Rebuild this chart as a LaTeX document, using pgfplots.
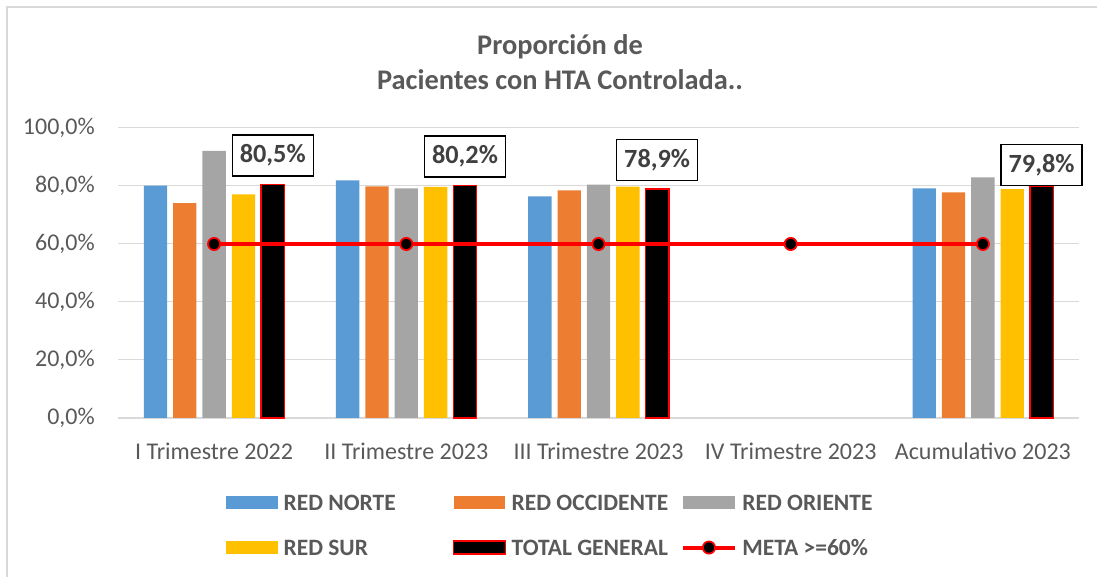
\documentclass[border=0pt]{standalone}
\usepackage{fontspec}
\setmainfont{Carlito}
\usepackage{pgfplots}
\usepackage{pgfplotstable}
\pgfplotsset{compat=1.18}
\definecolor{cblue}{HTML}{5B9BD5}
\definecolor{corange}{HTML}{ED7D31}
\definecolor{cgray}{HTML}{A5A5A5}
\definecolor{cyellow}{HTML}{FFC000}
\definecolor{cred}{HTML}{FF0000}
\definecolor{txtgray}{HTML}{595959}
\definecolor{lblgray}{HTML}{404040}
\definecolor{gridgray}{HTML}{D9D9D9}

\pgfplotstableread{
x norte occidente oriente sur
0 80.1 74.1 92.1 77.1
1 81.9 79.9 79.2 79.7
2 76.4 78.5 80.5 79.8
4 79.2 77.8 83.0 78.9
}\redes
\pgfplotstableread{
x y
0 80.5
1 80.2
2 78.9
}\totala
\pgfplotstableread{
x y
4 79.8
}\totalb
\pgfplotstableread{
x y
0 60
1 60
2 60
3 60
4 60
}\meta

\pgfplotsset{
  barleg/.style={legend image code/.code={\path[##1] (0pt,0.7pt) rectangle (38.75pt,10.7pt);}},
  lineleg/.style={legend image code/.code={\draw[##1,mark repeat=2,mark phase=2] plot coordinates {(0pt,5.7pt) (19.4pt,5.7pt) (38.75pt,5.7pt)};}},
  totalstyle/.style={fill=black, draw=cred, line width=1.1pt, bar shift=44pt,
    nodes near coords={\pgfmathprintnumber[fixed,fixed zerofill,precision=1,use comma]{\pgfplotspointmeta}\%},
    every node near coord/.append style={anchor=south, yshift=#1, draw=black, fill=white, line width=1.1pt,
      inner sep=0pt, minimum width=60.75pt, minimum height=30.75pt, text=lblgray,
      font=\fontsize{19.7}{23}\selectfont\bfseries}},
}
\newcommand{\lt}[1]{\makebox[127pt][l]{#1}}

\begin{document}
\begin{tikzpicture}[x=1pt,y=1pt]
\useasboundingbox (0,0) rectangle (822.75,432.75);
\draw[gridgray, line width=1.5pt] (5.3,-20) -- (5.3,427.5) -- (850,427.5);
\node[align=center, text=txtgray, font=\fontsize{21.3}{26.25}\selectfont\bfseries] at (420,385.9) {Proporción de\\Pacientes con HTA Controlada..};
\begin{axis}[
  at={(88.5pt,119.25pt)}, anchor=south west,
  scale only axis, width=720.75pt, height=217.5pt,
  xmin=-0.5, xmax=4.5, ymin=0, ymax=100,
  clip=false,
  ybar, bar width=17.5pt,
  xtick={0,1,2,3,4},
  xticklabels={I Trimestre 2022, II Trimestre 2023, III Trimestre 2023, IV Trimestre 2023, Acumulativo 2023},
  ytick={0,20,40,60,80,100},
  /pgf/number format/assume math mode=true,
  yticklabel={\pgfmathprintnumber[fixed,fixed zerofill,precision=1,use comma]{\tick}\%},
  ymajorgrids, grid style={draw=gridgray, line width=0.75pt},
  extra y ticks={0}, extra y tick labels={},
  extra y tick style={grid style={draw=gridgray, line width=1.5pt}},
  axis line style={draw=none},
  tick style={draw=none},
  ticklabel style={text=txtgray, font=\fontsize{18}{21}\selectfont, inner sep=0pt},
  xticklabel style={anchor=base, yshift=-26.5pt},
  yticklabel style={anchor=east, xshift=-17.25pt},
  legend columns=3,
  legend style={at={(0.1124,-0.2624)}, anchor=north west, draw=none, fill=none,
    inner sep=0pt, row sep=17.6pt,
    nodes={inner sep=0pt, anchor=base west, text height=12pt, text depth=4pt, text=txtgray, font=\fontsize{17.6}{21}\selectfont\bfseries},
    /tikz/every odd column/.append style={column sep=4.25pt},
    /tikz/every even column/.append style={column sep=0pt}},
]
\addplot[fill=cblue, draw=none, bar shift=-44pt, barleg] table[x=x, y=norte] {\redes};
\addlegendentry{\lt{RED NORTE}}
\addplot[fill=corange, draw=none, bar shift=-22pt, barleg] table[x=x, y=occidente] {\redes};
\addlegendentry{\lt{RED OCCIDENTE}}
\addplot[fill=cgray, draw=none, bar shift=0pt, barleg] table[x=x, y=oriente] {\redes};
\addlegendentry{RED ORIENTE}
\addplot[fill=cyellow, draw=none, bar shift=22pt, barleg] table[x=x, y=sur] {\redes};
\addlegendentry{\lt{RED SUR}}
\addplot[totalstyle=5.8pt, barleg] table[x=x, y=y] {\totala};
\addlegendentry{\lt{TOTAL GENERAL}}
\addplot[sharp plot, draw=cred, line width=3pt, mark=*, mark size=4.6pt,
  mark options={fill=black, draw=cred, line width=1.3pt}, lineleg] table[x=x, y=y] {\meta};
\addlegendentry{META >=60\%}
\addplot[totalstyle=0.2pt, forget plot] table[x=x, y=y] {\totalb};
\end{axis}
\end{tikzpicture}
\end{document}
